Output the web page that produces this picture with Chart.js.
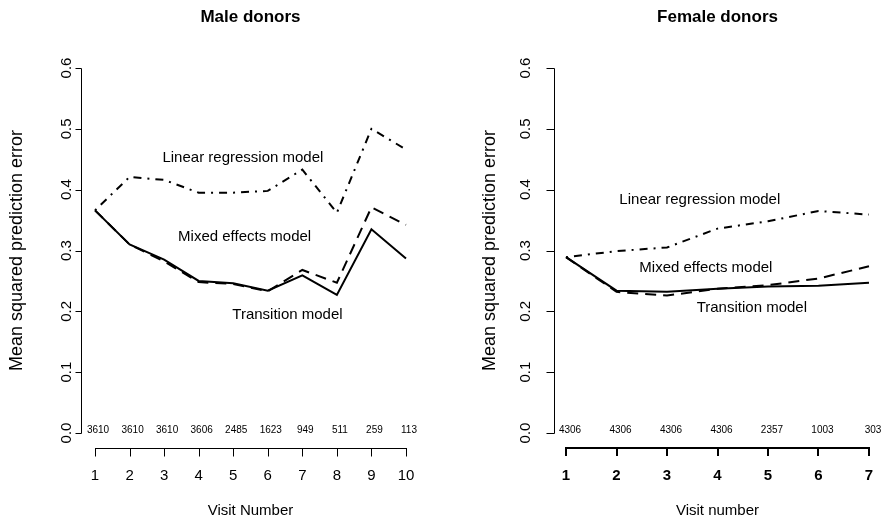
<!DOCTYPE html>
<html><head><meta charset="utf-8">
<script src="https://cdn.jsdelivr.net/npm/chart.js@4"></script>
<style>
html,body{margin:0;padding:0;background:#fff;overflow:hidden}
#wrap{position:relative;width:887px;height:521px;background:#fff}
canvas{position:absolute;top:0}
</style></head><body>
<div id="wrap">
<canvas id="male" width="443" height="521" style="left:0"></canvas>
<canvas id="female" width="444" height="521" style="left:443px"></canvas>
</div>
<script>
// ---- data ----
const maleVisits = [1,2,3,4,5,6,7,8,9,10];
const maleCounts = ["3610","3610","3610","3606","2485","1623","949","511","259","113"];
const maleLinear = [0.366,0.421,0.416,0.395,0.395,0.398,0.433,0.362,0.500,0.466];
const maleMixed = [0.366,0.310,0.282,0.248,0.245,0.233,0.268,0.247,0.371,0.342];
const maleTransition = [0.366,0.310,0.285,0.250,0.246,0.234,0.259,0.227,0.335,0.287];

const femaleVisits = [1,2,3,4,5,6,7];
const femaleCounts = ["4306","4306","4306","4306","2357","1003","303"];
const femaleLinear = [0.289,0.299,0.305,0.336,0.348,0.365,0.359];
const femaleMixed = [0.289,0.232,0.226,0.237,0.243,0.254,0.274];
const femaleTransition = [0.289,0.234,0.232,0.237,0.241,0.242,0.247];

const yTicks = [0,0.1,0.2,0.3,0.4,0.5,0.6];
const yTickLabels = ["0.0","0.1","0.2","0.3","0.4","0.5","0.6"];
const seriesNames = ["Linear regression model","Mixed effects model","Transition model"];

const FONT = '"Liberation Sans", Arial, Helvetica, sans-serif';

function toPts(xs, ys){ return xs.map((x,i)=>({x:x, y:ys[i]})); }

function rAxesPlugin(cfg){
  return {
    id:'rAxes',
    afterDraw(chart){
      const ctx = chart.ctx, xs = chart.scales.x, ys = chart.scales.y, a = chart.chartArea;
      ctx.save();
      ctx.strokeStyle = '#000'; ctx.fillStyle = '#000';
      // y axis
      ctx.lineWidth = 1;
      const ax = Math.round(a.left) + 0.5;
      const yTop = Math.round(ys.getPixelForValue(yTicks[yTicks.length-1])) + 0.5;
      const yBot = Math.round(ys.getPixelForValue(yTicks[0])) + 0.5;
      ctx.beginPath();
      ctx.moveTo(ax, yTop); ctx.lineTo(ax, yBot);
      yTicks.forEach(v => {
        const p = Math.round(ys.getPixelForValue(v)) + 0.5;
        ctx.moveTo(ax, p); ctx.lineTo(ax - cfg.yTickLen, p);
      });
      ctx.stroke();
      ctx.font = '15px ' + FONT;
      ctx.textAlign = 'center'; ctx.textBaseline = 'middle';
      yTicks.forEach((v,i) => {
        ctx.save();
        ctx.translate(a.left - cfg.yLabelOff, ys.getPixelForValue(v));
        ctx.rotate(-Math.PI/2);
        ctx.fillText(yTickLabels[i], 0, 0);
        ctx.restore();
      });
      // x axis
      ctx.lineWidth = cfg.xAxisWidth;
      const off = cfg.xAxisWidth % 2 === 1 ? 0.5 : 0;
      const ay = Math.round(a.bottom) + off;
      const x0 = xs.getPixelForValue(cfg.visits[0]);
      const x1 = xs.getPixelForValue(cfg.visits[cfg.visits.length-1]);
      ctx.beginPath();
      ctx.moveTo(Math.round(x0)+off - cfg.xAxisWidth/2, ay); ctx.lineTo(Math.round(x1)+off + cfg.xAxisWidth/2, ay);
      cfg.visits.forEach(v => {
        const p = Math.round(xs.getPixelForValue(v)) + off;
        ctx.moveTo(p, ay); ctx.lineTo(p, ay + 8);
      });
      ctx.stroke();
      ctx.font = (cfg.bold ? 'bold ' : '') + '15px ' + FONT;
      ctx.textBaseline = 'middle';
      cfg.visits.forEach(v => ctx.fillText(String(v), xs.getPixelForValue(v), a.bottom + 28));
      // counts
      ctx.font = '10px ' + FONT;
      const cy = ys.getPixelForValue(0) - 2.5;
      cfg.visits.forEach((v,i) => ctx.fillText(cfg.counts[i], xs.getPixelForValue(v) + cfg.countOff, cy));
      // titles
      const cx = (a.left + a.right) / 2;
      ctx.font = 'bold 17px ' + FONT;
      ctx.textBaseline = 'alphabetic';
      ctx.fillText(cfg.title, cx, 22);
      ctx.font = '15px ' + FONT;
      ctx.textBaseline = 'middle';
      ctx.fillText(cfg.xTitle, cx, 511);
      ctx.save();
      ctx.translate(a.left - 64, (a.top + a.bottom) / 2);
      ctx.rotate(-Math.PI/2);
      ctx.font = '18px ' + FONT;
      ctx.fillText(cfg.yTitle, 0, 0);
      ctx.restore();
      // annotations
      ctx.font = '15px ' + FONT;
      cfg.notes.forEach((n,i) => ctx.fillText(seriesNames[i], xs.getPixelForValue(n[0]), ys.getPixelForValue(n[1])));
      ctx.restore();
    }
  };
}

function makeChart(id, visits, lin, mix, tra, xmin, xmax, pad, cfg){
  const common = {borderColor:'#000', pointRadius:0, tension:0, fill:false, borderCapStyle:'butt', borderJoinStyle:'miter'};
  return new Chart(document.getElementById(id), {
    type:'line',
    data:{datasets:[
      Object.assign({label:seriesNames[0], data:toPts(visits, lin), borderWidth:2, borderDash:[2,6,8,6]}, common),
      Object.assign({label:seriesNames[1], data:toPts(visits, mix), borderWidth:2, borderDash:[11,7]}, common),
      Object.assign({label:seriesNames[2], data:toPts(visits, tra), borderWidth:2}, common)
    ]},
    options:{
      responsive:false, animation:false, devicePixelRatio:1,
      layout:{padding:pad},
      plugins:{legend:{display:false}, tooltip:{enabled:false}, title:{display:false}},
      scales:{
        x:{type:'linear', min:xmin, max:xmax, display:false},
        y:{type:'linear', min:-0.024, max:0.624, display:false}
      }
    },
    plugins:[rAxesPlugin(cfg)]
  });
}

makeChart('male', maleVisits, maleLinear, maleMixed, maleTransition, 0.6, 10.4,
  {left:81.2, right:23.2, top:53.4, bottom:73.4},
  {visits:maleVisits, counts:maleCounts, title:'Male donors', xTitle:'Visit Number',
   yTitle:'Mean squared prediction error', bold:false, xAxisWidth:1, yTickLen:6, yLabelOff:14, countOff:3,
   notes:[[5.28,0.453],[5.33,0.323],[6.57,0.195]]});

makeChart('female', femaleVisits, femaleLinear, femaleMixed, femaleTransition, 0.76, 7.24,
  {left:110.9, right:5.9, top:53.4, bottom:73.4},
  {visits:femaleVisits, counts:femaleCounts, title:'Female donors', xTitle:'Visit number',
   yTitle:'Mean squared prediction error', bold:true, xAxisWidth:2, yTickLen:8, yLabelOff:28, countOff:4,
   notes:[[3.65,0.383],[3.77,0.272],[4.68,0.205]]});
</script>
</body></html>
